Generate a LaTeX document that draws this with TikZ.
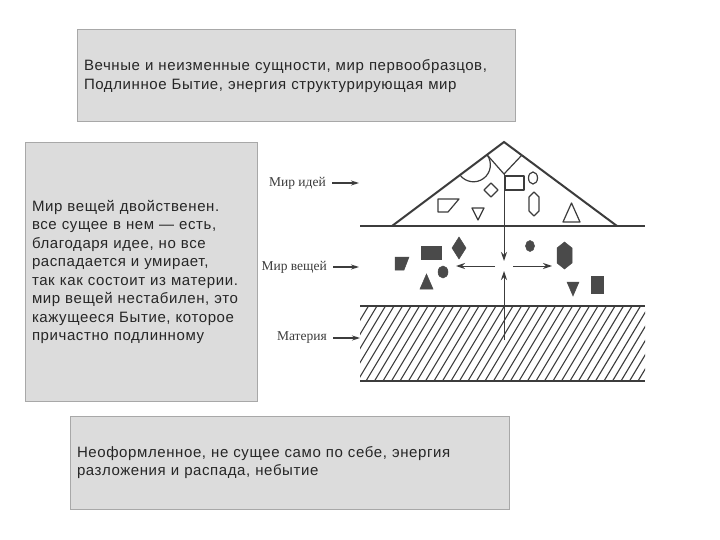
\documentclass[tikz,border=0pt]{standalone}
\usepackage{fontspec}
\setmainfont{Liberation Sans}
\newfontfamily\boxfont[LetterSpace=4]{Liberation Sans}
\newfontfamily\labfont{Liberation Serif}
\usetikzlibrary{arrows.meta}
\definecolor{boxfill}{HTML}{DCDCDC}
\definecolor{boxline}{HTML}{A8A8A8}
\definecolor{ink}{HTML}{3C3C3C}
\definecolor{solid}{HTML}{4A4A4A}
\tikzset{
  textbox/.style={draw=boxline, fill=boxfill, line width=1pt, align=left,
    inner xsep=7pt, inner ysep=0pt, font=\boxfont\fontsize{15}{18.5}\selectfont, text=black!85},
  heavy/.style={draw=ink, line width=2pt},
  thin shape/.style={draw=ink, line width=1.2pt, line join=round},
  solid shape/.style={fill=solid, draw=solid, line width=0.5pt},
  flow/.style={draw=ink, line width=1pt, -{Stealth[length=9pt,width=6pt]}},
  levellabel/.style={inner sep=0pt, anchor=east, text=ink, font=\labfont\fontsize{13.5}{16}\selectfont},
  labarrow/.style={draw=ink, line width=1.2pt, shorten <=6pt, -{Stealth[length=8pt,width=5pt]}},
  hatch/.style={draw=ink, line width=1.1pt}
}
\begin{document}
\begin{tikzpicture}[x=1pt,y=-1pt]
\useasboundingbox (0,0) rectangle (720,540);
\fill[white] (0,0) rectangle (720,540);

% text boxes
\node[textbox, text width=424pt, minimum height=92pt] (top) at (296,76)
  {Вечные и неизменные сущности, мир первообразцов,\\Подлинное Бытие, энергия структурирующая мир};
\node[textbox, text width=218pt, minimum height=258pt] (left) at (141,272)
  {Мир вещей двойственен.\\все сущее в нем — есть,\\благодаря идее, но все\\распадается и умирает,\\так как состоит из материи.\\мир вещей нестабилен, это\\кажущееся Бытие, которое\\причастно подлинному};
\node[textbox, text width=425pt, minimum height=93pt] (bottom) at (289.5,462.5)
  {Неоформленное, не сущее само по себе, энергия\\разложения и распада, небытие};

% hatched matter layer
\begin{scope}
  \clip (360,306) rectangle (645,381);
  \foreach \i in {0,...,42} {
    \draw[hatch] (315+\i*8.5,381) -- (360+\i*8.5,306);
  }
\end{scope}
\draw[heavy, line width=2.5pt] (360,306) -- (645,306);
\draw[heavy, line width=2.5pt] (360,381) -- (645,381);

% world of ideas
\draw[heavy] (360,226) -- (645,226);
\draw[heavy, line join=miter] (392,226) -- (504,142) -- (617,226);
\draw[thin shape] (487,154.75) -- (504,174) -- (521.5,155.5);
\draw[thin shape] (487,154.75) arc[start angle=-36.87, end angle=143.13, radius=16.9];
\draw[thin shape] (438,199) -- (459,199) -- (448,212) -- (438,212) -- cycle;
\draw[thin shape] (491,183) -- (498,190) -- (491,197) -- (484,190) -- cycle;
\draw[thin shape] (472,208) -- (484,208) -- (478,220) -- cycle;
\draw[thin shape] (505,176) rectangle (524,190);
\draw[thin shape] (533,178) ellipse[x radius=4.5, y radius=6];
\draw[thin shape] (534,192) -- (539,197) -- (539,211) -- (534,216) -- (529,211) -- (529,197) -- cycle;
\draw[thin shape] (563,222) -- (580,222) -- (571.5,203) -- cycle;

% world of things
\fill[solid shape] (395,257) -- (409,257) -- (404,270) -- (395,270) -- cycle;
\fill[solid shape] (421,246) rectangle (441,259);
\fill[solid shape] (459,237) -- (466,248) -- (459,259) -- (452,248) -- cycle;
\fill[solid shape] (443,272) ellipse[x radius=5, y radius=6];
\fill[solid shape] (420,289) -- (433,289) -- (426.5,274) -- cycle;
\fill[solid shape] (530,246) ellipse[x radius=4.5, y radius=5.5];
\fill[solid shape] (564.5,242) -- (572,248) -- (572,263) -- (564.5,269) -- (557,263) -- (557,248) -- cycle;
\fill[solid shape] (567,282) -- (579,282) -- (573,296) -- cycle;
\fill[solid shape] (591,276) rectangle (603,293);

% flows
\coordinate (ideabase) at (504,174);
\coordinate (downtip) at (504,261);
\coordinate (matterin) at (504,340);
\coordinate (uptip) at (504,271);
\coordinate (hl0) at (495,266);
\coordinate (hl1) at (456,266);
\coordinate (hr0) at (513,266);
\coordinate (hr1) at (552,266);
\draw[flow] (ideabase) -- (downtip);
\draw[flow] (matterin) -- (uptip);
\draw[flow] (hl0) -- (hl1);
\draw[flow] (hr0) -- (hr1);

% level labels
\node[levellabel] (lideas) at (326,183) {Мир идей};
\node[levellabel] (lthings) at (327,267) {Мир вещей};
\node[levellabel] (lmatter) at (327,338) {Материя};
\coordinate (aideas) at (359,183);
\coordinate (athings) at (359,267);
\coordinate (amatter) at (360,338);
\draw[labarrow] (lideas.east) -- (aideas);
\draw[labarrow] (lthings.east) -- (athings);
\draw[labarrow] (lmatter.east) -- (amatter);
\end{tikzpicture}
\end{document}
